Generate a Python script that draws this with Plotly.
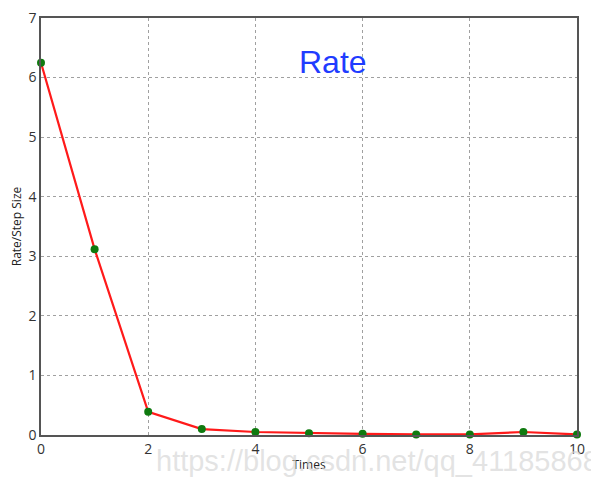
import plotly.graph_objects as go

# Values
times = [0, 1, 2, 3, 4, 5, 6, 7, 8, 9, 10]
rate = [6.25, 3.12, 0.39, 0.10, 0.05, 0.03, 0.02, 0.01, 0.01, 0.05, 0.01]
x_ticks = [0, 2, 4, 6, 8, 10]
y_ticks = [0, 1, 2, 3, 4, 5, 6, 7]

# The page body adds an 8px offset, so the figure is sized to fit the window
OFF = 8
W, H = 599 - OFF, 483 - OFF
L, R, T, B = 41 - OFF, 22, 18 - OFF, 48
PW, PH = W - L - R, H - T - B


def px_to_paper(px, py):
    """Convert window pixel coordinates to paper (plot-area) coordinates."""
    return (px - OFF - L) / PW, (H - B - (py - OFF)) / PH


fig = go.Figure()
fig.add_trace(
    go.Scatter(
        x=times,
        y=rate,
        mode="lines+markers",
        line={"color": "#ff1a1a", "width": 2.2},
        marker={"color": "#0f7a0f", "size": 8},
        cliponaxis=False,
        showlegend=False,
    )
)

axis_common = dict(
    showline=True,
    linecolor="#555555",
    linewidth=1.5,
    mirror=True,
    showgrid=True,
    gridcolor="#a0a0a0",
    griddash="dot",
    gridwidth=1,
    zeroline=False,
    ticks="",
    automargin=False,
    ticklabeloverflow="allow",
    tickfont={"family": "Open Sans, DejaVu Sans, sans-serif", "size": 14, "color": "#333333"},
    title_font={"family": "Open Sans, DejaVu Sans, sans-serif", "size": 12, "color": "#222222"},
)

fig.update_xaxes(
    range=[0, 10],
    tickmode="array",
    tickvals=x_ticks,
    title_text="Times",
    title_standoff=4,
    **axis_common,
)
fig.update_yaxes(
    range=[0, 7],
    tickmode="array",
    tickvals=y_ticks,
    title_text="Rate/Step Size",
    title_standoff=6,
    **axis_common,
)

# Blue "Rate" label inside the plot
rx, ry = px_to_paper(333, 62)
fig.add_annotation(
    x=rx, y=ry, xref="paper", yref="paper",
    text="Rate", showarrow=False,
    font={"family": "Liberation Sans, Arial, sans-serif", "size": 32, "color": "#1f3cff"},
    xanchor="center", yanchor="middle",
)

# Faint watermark along the bottom
wx, wy = px_to_paper(601, 461)
fig.add_annotation(
    x=wx, y=wy, xref="paper", yref="paper",
    text="https://blog.csdn.net/qq_41185868", showarrow=False,
    font={"family": "Liberation Sans, Arial, sans-serif", "size": 29, "color": "rgba(215,215,215,0.7)"},
    xanchor="right", yanchor="middle",
)

fig.update_layout(
    width=W,
    height=H,
    margin={"l": L, "r": R, "t": T, "b": B},
    paper_bgcolor="white",
    plot_bgcolor="white",
)

fig.write_html("out.html")
